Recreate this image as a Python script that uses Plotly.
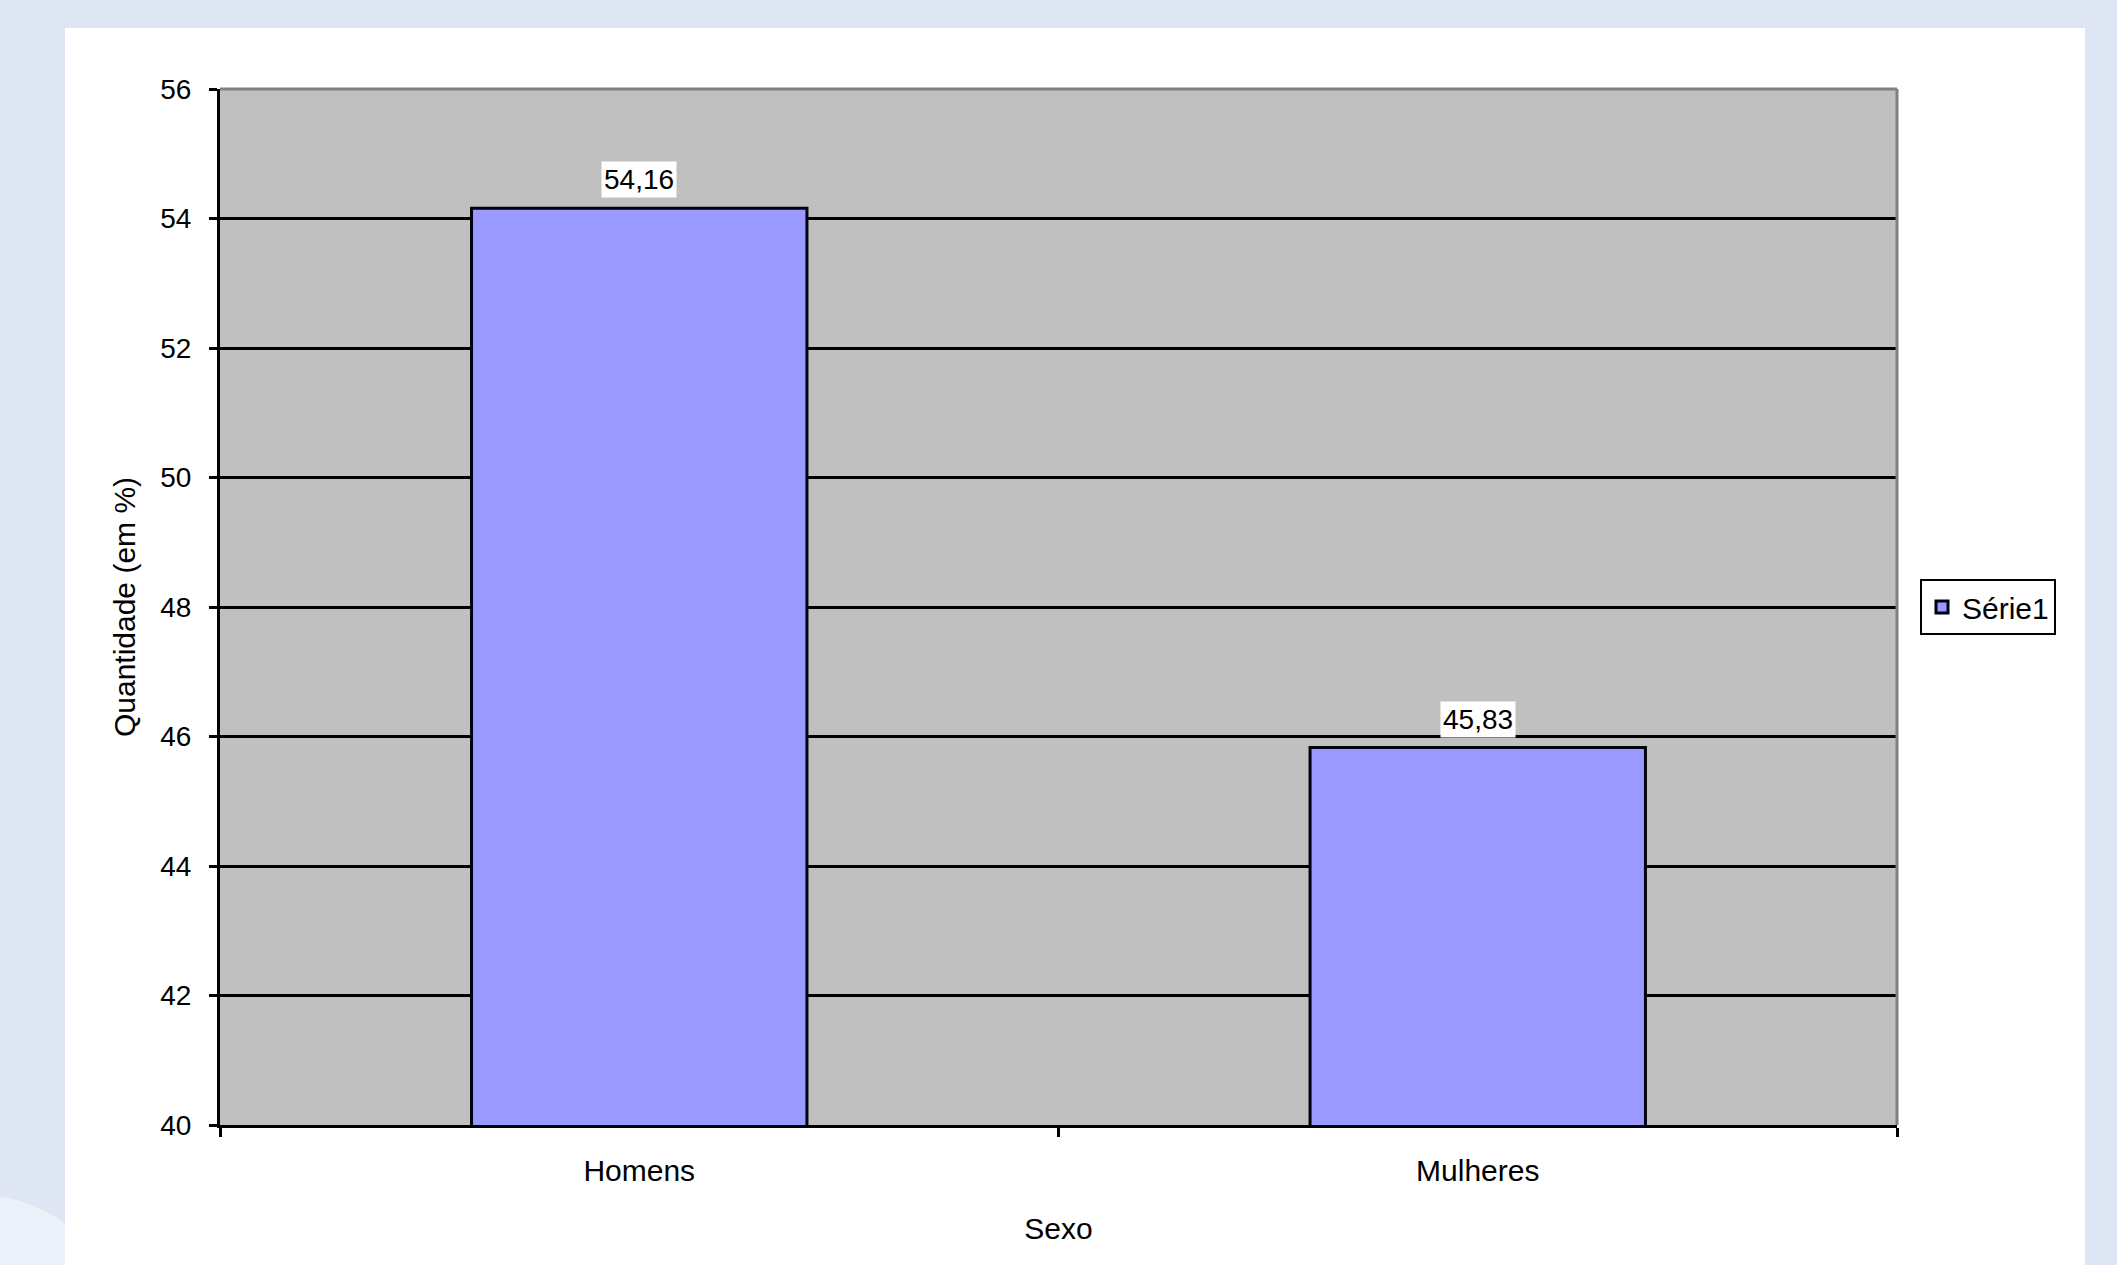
import plotly.graph_objects as go

# Distribution by sex (percent)
categories = ["Homens", "Mulheres"]
values = [54.16, 45.83]
series_name = "Série1"
y_ticks = [40, 42, 44, 46, 48, 50, 52, 54, 56]

W, H = 2117, 1265
L, R, T, B = 220, 220, 89, 140
PW, PH = W - L - R, H - T - B

FONT = "Liberation Sans, Arial, sans-serif"
BAR = "#9999ff"
PLOT_BG = "#c0c0c0"
PAGE_BG = "#dfe6f3"


def px_x(p):
    return (p - L) / PW


def px_y(p):
    return (H - B - p) / PH


fig = go.Figure()
fig.add_trace(go.Bar(
    x=categories,
    y=values,
    name=series_name,
    width=0.4,
    marker=dict(color=BAR, line=dict(color="#000010", width=3)),
    showlegend=True,
))

# value labels on white boxes above each bar
annotations = []
for cat, v in zip(categories, values):
    annotations.append(dict(
        x=cat, y=v, xref="x", yref="y",
        text=f"{v:.2f}".replace(".", ","),
        showarrow=False, yanchor="bottom", yshift=10,
        bgcolor="white", borderpad=2,
        font=dict(family=FONT, size=28, color="black"),
    ))

shapes = [
    # faint disc in the page corner
    dict(type="circle", xref="paper", yref="paper", layer="below",
         x0=px_x(-160), x1=px_x(120), y0=px_y(1195), y1=px_y(1475),
         fillcolor="#ecf0f8", line=dict(width=0)),
    # white chart panel
    dict(type="rect", xref="paper", yref="paper", layer="below",
         x0=px_x(65), x1=px_x(2085), y0=px_y(28), y1=px_y(1300),
         fillcolor="white", line=dict(width=0)),
    # grey plotting area
    dict(type="rect", xref="paper", yref="paper", layer="below",
         x0=0, x1=1, y0=0, y1=1, fillcolor=PLOT_BG, line=dict(width=0)),
    # grey top and right frame
    dict(type="line", xref="paper", yref="paper", layer="above",
         x0=0, x1=1, y0=1, y1=1, line=dict(color="#808080", width=3)),
    dict(type="line", xref="paper", yref="paper", layer="above",
         x0=1, x1=1, y0=0, y1=1, line=dict(color="#808080", width=3)),
]

fig.update_layout(
    width=W, height=H, autosize=False,
    margin=dict(l=L, r=R, t=T, b=B, pad=0),
    paper_bgcolor=PAGE_BG,
    plot_bgcolor="rgba(0,0,0,0)",
    font=dict(family=FONT, color="black"),
    bargap=0.6,
    shapes=shapes,
    annotations=annotations,
    legend=dict(
        x=px_x(1920), y=0.5, xanchor="left", yanchor="middle",
        bgcolor="white", bordercolor="black", borderwidth=2,
        font=dict(family=FONT, size=30, color="black"),
    ),
    xaxis=dict(
        type="category",
        range=[-0.5, 1.5],
        showline=True, linecolor="black", linewidth=3,
        ticks="outside", tickson="boundaries", ticklen=9, tickwidth=3,
        tickcolor="black", showgrid=False,
        tickfont=dict(family=FONT, size=30, color="black"),
        ticklabelstandoff=17,
        title=dict(text="Sexo", font=dict(family=FONT, size=30, color="black"),
                   standoff=32),
        automargin=False,
        fixedrange=True,
    ),
    yaxis=dict(
        range=[40, 56],
        tickvals=y_ticks,
        ticktext=[str(t) for t in y_ticks],
        showline=True, linecolor="black", linewidth=3,
        ticks="outside", ticklen=8, tickwidth=3, tickcolor="black",
        showgrid=True, gridcolor="black", gridwidth=3,
        zeroline=False,
        tickfont=dict(family=FONT, size=28, color="black"),
        ticklabelstandoff=12,
        title=dict(text="Quantidade (em %)",
                   font=dict(family=FONT, size=30, color="black"),
                   standoff=16),
        automargin=False,
        fixedrange=True,
    ),
)

fig.write_html("out.html")
